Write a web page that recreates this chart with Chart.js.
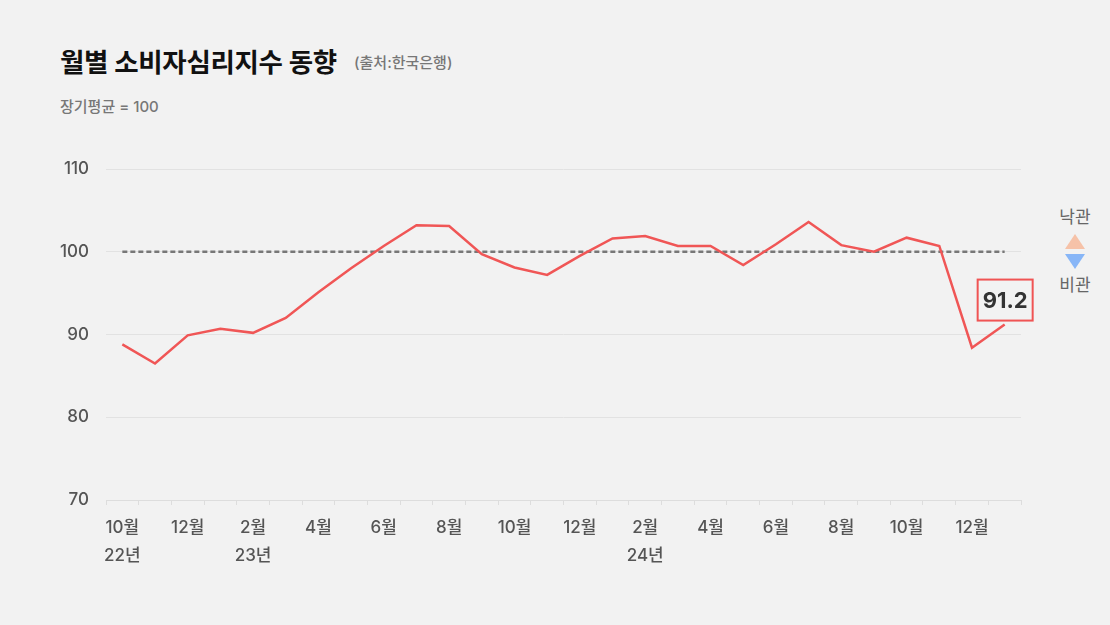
<!DOCTYPE html>
<html lang="ko">
<head>
<meta charset="utf-8">
<script src="https://cdn.jsdelivr.net/npm/chart.js@4.4.1/dist/chart.umd.min.js"></script>
<style>
    html, body { margin: 0; padding: 0; background: #f2f2f2; }
    body { width: 1110px; height: 625px; position: relative; overflow: hidden;
           font-family: Inter, "Noto Sans CJK KR", sans-serif; }
    #title { position: absolute; left: 60px; top: 41px; font-size: 26.5px; font-weight: 700; color: #111; letter-spacing: -0.3px; }
    #source { position: absolute; left: 354px; top: 51px; font-size: 15px; font-weight: 500; color: #777; }
    #note { position: absolute; left: 60px; top: 95px; font-size: 15px; font-weight: 500; color: #777; }
    #legend { position: absolute; left: 1054px; top: 206px; width: 42px; text-align: center; color: #666; font-size: 17px; }
    #legend .tri { width: 0; height: 0; margin: 0 auto; }
    #chart { position: absolute; left: 0; top: 0; }
</style>
</head>
<body>
<div id="title">월별 소비자심리지수 동향</div>
<div id="source">(출처:한국은행)</div>
<div id="note">장기평균 = 100</div>
<div id="legend">
    <div style="line-height:22px">낙관</div>
    <div class="tri" style="margin-top:6px;border-left:10px solid transparent;border-right:10px solid transparent;border-bottom:15px solid #f6c2a8;"></div>
    <div class="tri" style="margin-top:5px;border-left:10px solid transparent;border-right:10px solid transparent;border-top:15px solid #88b6f7;"></div>
    <div style="line-height:22px;margin-top:5px">비관</div>
</div>
<canvas id="chart" width="1110" height="625"></canvas>
<script>
// 월별 소비자심리지수 (2022.10 ~ 2025.01)
const months = [10, 11, 12, 1, 2, 3, 4, 5, 6, 7, 8, 9, 10, 11, 12, 1, 2, 3, 4, 5, 6, 7, 8, 9, 10, 11, 12, 1];
const years = ['22년', '', '', '', '23년', '', '', '', '', '', '', '', '', '', '', '', '24년', '', '', '', '', '', '', '', '', '', '', ''];
const ccsi = [88.8, 86.5, 89.9, 90.7, 90.2, 92.0, 95.1, 98.0, 100.7, 103.2, 103.1, 99.7, 98.1, 97.2, 99.5, 101.6, 101.9, 100.7, 100.7, 98.4, 100.9, 103.6, 100.8, 100.0, 101.7, 100.7, 88.4, 91.2];
const longTermAvg = 100;
const yTicks = [70, 80, 90, 100, 110];

// 짝수 달만 표시, 연도는 둘째 줄
const labels = months.map((m, i) => {
    if (m % 2 !== 0) return '';
    return years[i] ? [m + '월', years[i]] : m + '월';
});

const lastValueBox = {
    id: 'lastValueBox',
    afterDatasetsDraw(chart) {
        const meta = chart.getDatasetMeta(0);
        const pt = meta.data[meta.data.length - 1];
        const ctx = chart.ctx;
        const left = pt.x - 27, top = pt.y - 45, w = 55, h = 41;
        ctx.save();
        ctx.strokeStyle = '#f05454';
        ctx.lineWidth = 2;
        ctx.strokeRect(left, top, w, h);
        ctx.fillStyle = '#333';
        ctx.font = 'bold 22px Inter, "Noto Sans CJK KR", sans-serif';
        ctx.textAlign = 'center';
        ctx.textBaseline = 'middle';
        ctx.fillText(ccsi[ccsi.length - 1].toFixed(1), left + w / 2, top + h / 2 + 1);
        ctx.restore();
    }
};

new Chart(document.getElementById('chart'), {
    type: 'line',
    data: {
        labels: labels,
        datasets: [{
            data: ccsi,
            borderColor: '#f05656',
            borderWidth: 2.5,
            pointRadius: 0,
            tension: 0,
            order: 0
        }, {
            data: ccsi.map(() => longTermAvg),
            borderColor: '#777',
            borderWidth: 2.5,
            borderDash: [5, 3],
            pointRadius: 0,
            order: 1
        }]
    },
    options: {
        responsive: false,
        animation: false,
        layout: { padding: { top: 169, right: 89, bottom: 45, left: 0 } },
        plugins: { legend: { display: false }, tooltip: { enabled: false } },
        scales: {
            x: {
                offset: true,
                grid: { offset: true, drawOnChartArea: false, color: '#ddd', tickLength: 5 },
                border: { display: true, color: '#ddd' },
                ticks: {
                    autoSkip: false, maxRotation: 0, padding: 8,
                    color: '#555',
                    font: { size: 17, family: 'Inter, "Noto Sans CJK KR", sans-serif', weight: '500', lineHeight: 1.7 }
                },
                afterFit(scale) { scale.height = 80; }
            },
            y: {
                min: 70, max: 110,
                afterBuildTicks(scale) { scale.ticks = yTicks.map(v => ({ value: v })); },
                grid: { color: '#e2e2e2', drawTicks: false },
                border: { display: false },
                ticks: {
                    padding: 17,
                    color: '#555',
                    font: { size: 17, family: 'Inter, "Noto Sans CJK KR", sans-serif', weight: '500' }
                },
                afterFit(scale) { scale.width = 106; }
            }
        }
    },
    plugins: [lastValueBox]
});
</script>
</body>
</html>
